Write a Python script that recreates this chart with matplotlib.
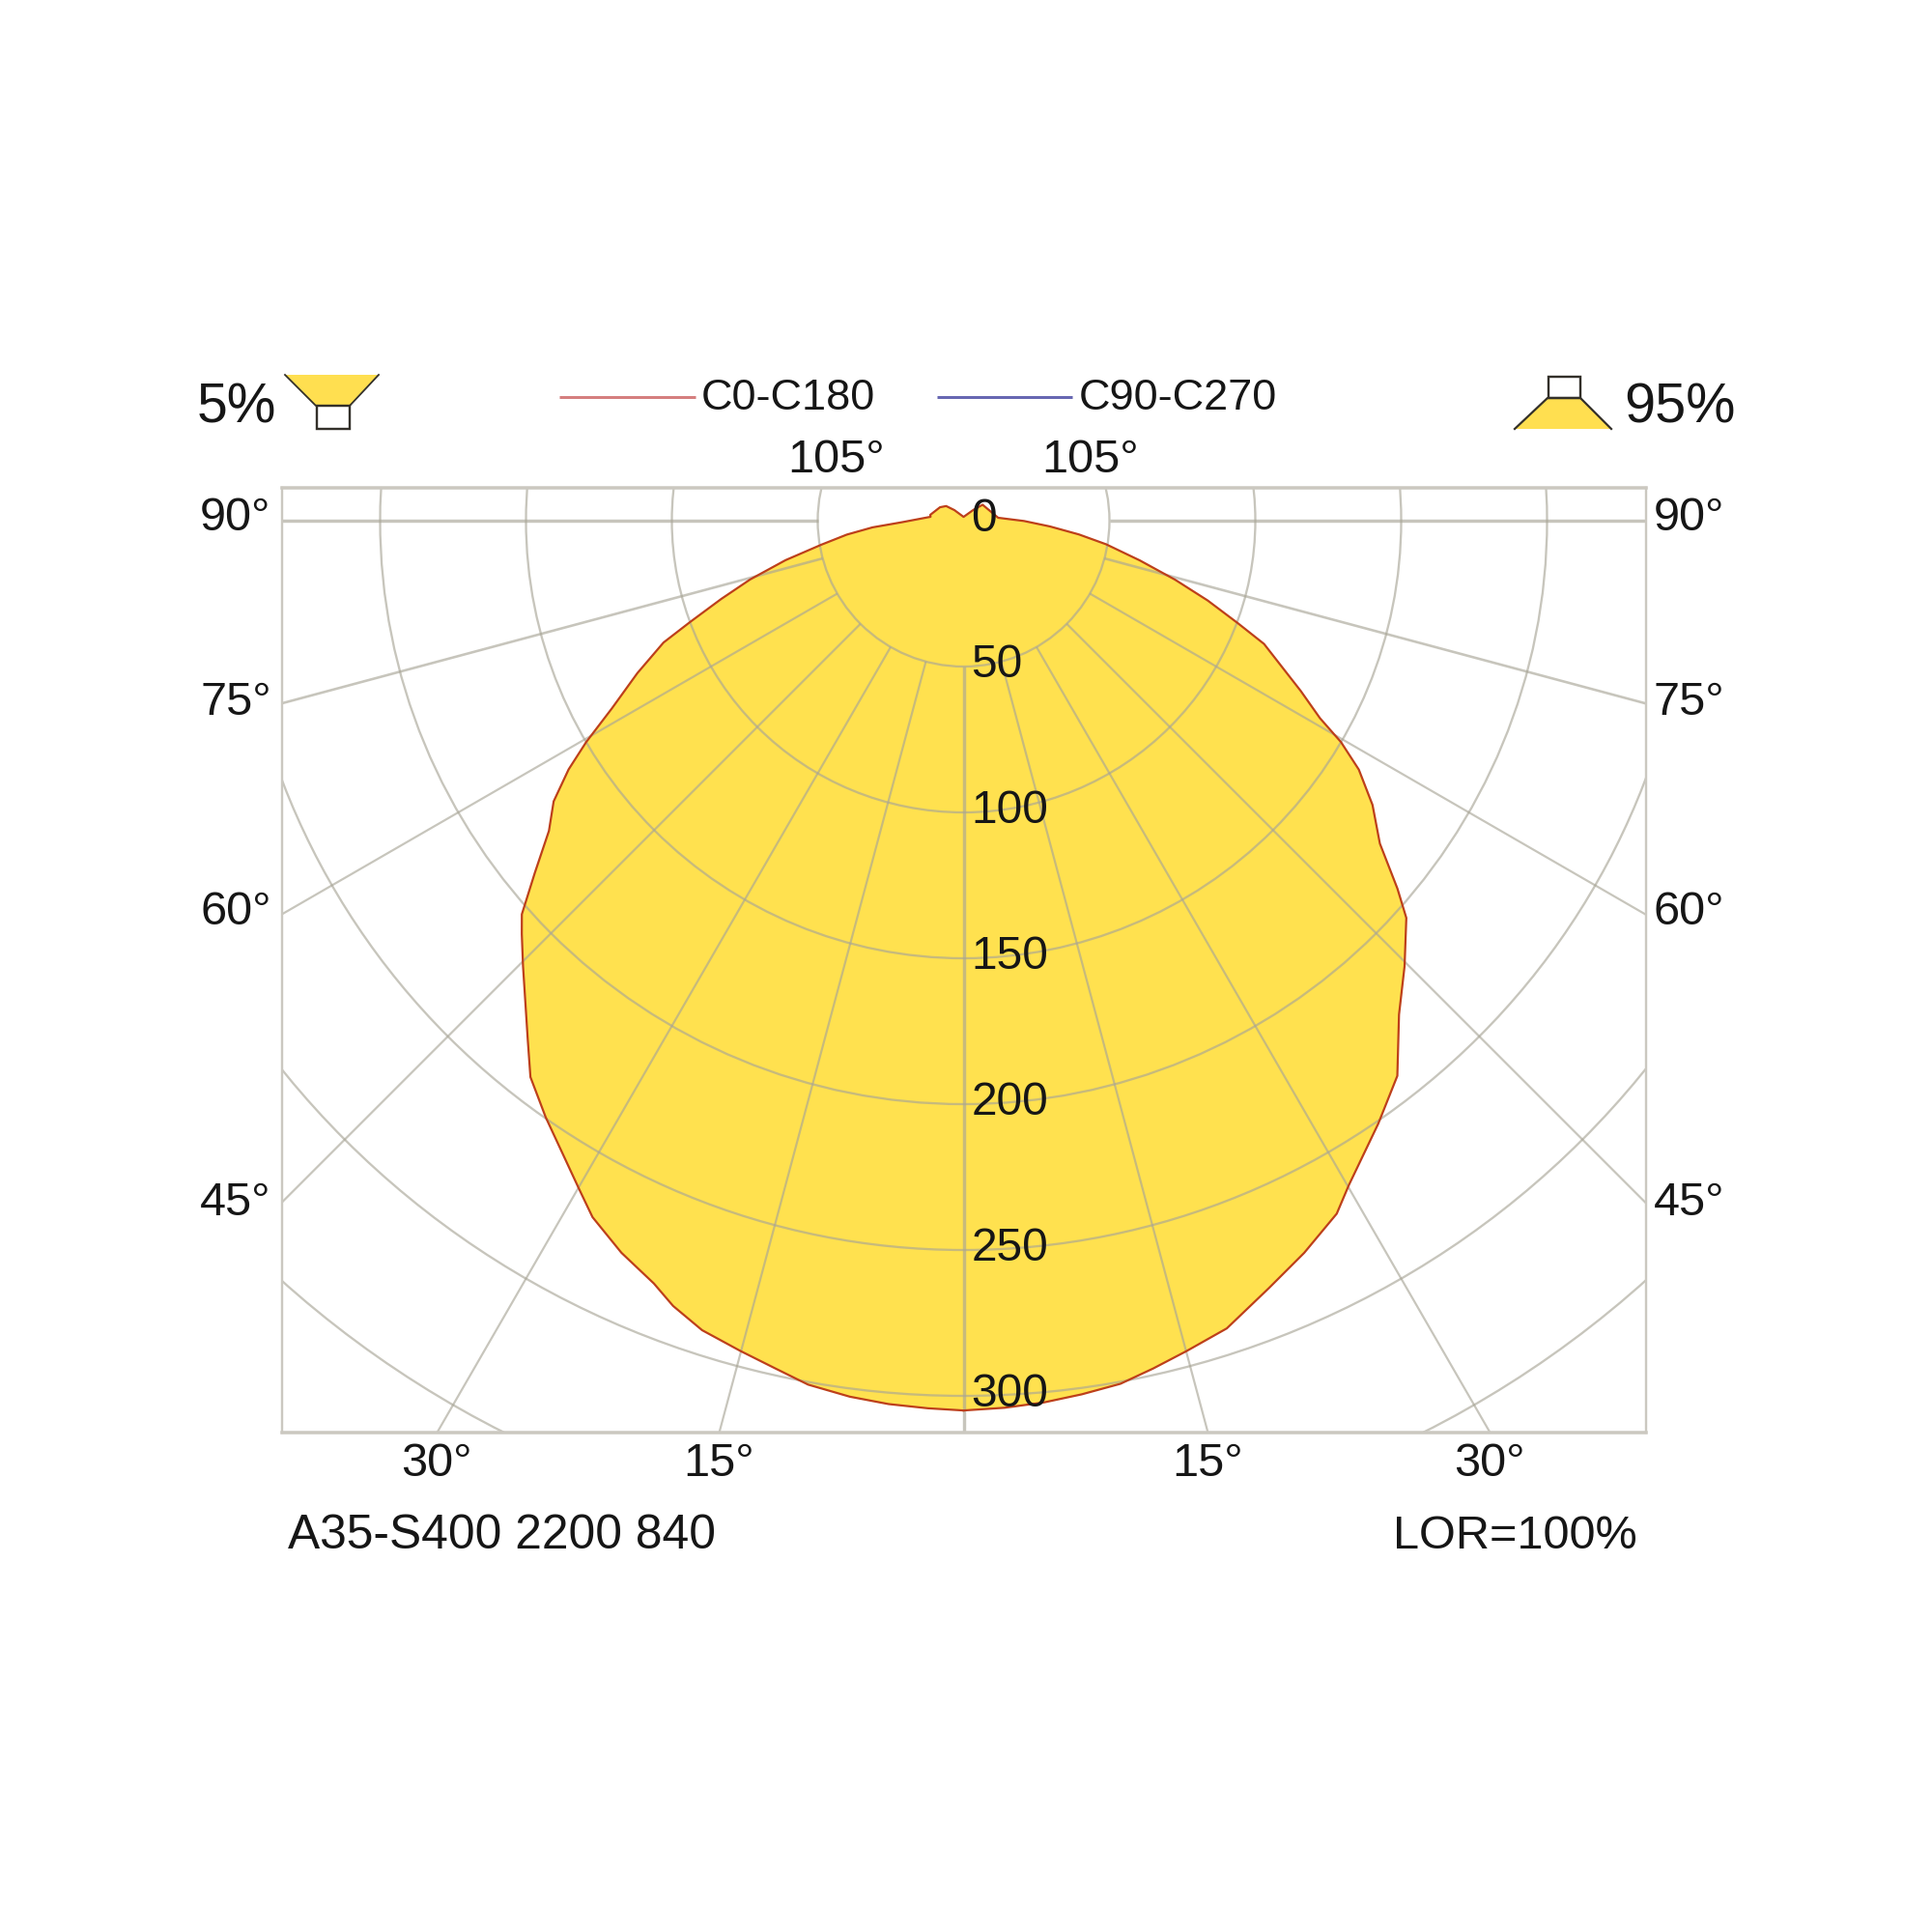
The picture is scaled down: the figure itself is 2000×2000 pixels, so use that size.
import numpy as np
import matplotlib
matplotlib.use("Agg")
import matplotlib.pyplot as plt
from matplotlib.patches import Circle, Polygon, Rectangle

plt.rcParams['font.family'] = ['Liberation Sans', 'DejaVu Sans']

# ---- data: angle from nadir (deg), intensity (cd/klm)
angle_right = [0, 2.65, 5.2, 7.7, 10.3, 12.6, 15.05, 18.05, 21.7, 24.95, 28.3, 30.1, 34.5, 38,
               41.4, 44.7, 48.1, 49.7, 52.2, 55.2, 57.8, 59.6, 61, 63.2, 67.7, 69.5, 71.9,
               74.4, 77.3, 80.6, 83.2, 86.2, 89.7, 94.8, 130, 138, 180]
value_right = [305, 304.4, 303.5, 302.2, 300.7, 297.8, 294.7, 291.2, 283.1, 276.8, 269.8,
               263.3, 250.9, 241.5, 225.7, 214.9, 203.9, 195, 180.6, 170.7, 160.1, 150, 139.7,
               129.5, 111.3, 100.4, 88, 75.3, 61.9, 49.5, 39.8, 29.6, 20.7, 11.9, 8.5, 4.9, 1.3]
angle_left = [180, 139, 130, 119.7, 99.9, 96.7, 88.5, 85.8, 83.2, 80.4, 77.5, 74.6, 72.1, 69.7,
              67.9, 64.96, 61.9, 59.6, 57.8, 55.6, 53.2, 50.6, 48.3, 46.9, 44.7, 40, 37.9, 35,
              29.85, 28.05, 25.05, 22.1, 20.3, 17.9, 15.05, 12.5, 10.2, 7.4, 4.85, 2.3, 0]
value_left = [1.3, 4.8, 7.8, 9.3, 11.6, 11.4, 21.3, 31.3, 40.3, 49.5, 62.5, 75.9, 87.3, 99.8,
              111, 123.4, 136.7, 150, 160, 170.3, 177.5, 190.2, 202.8, 207.4, 214.7, 232.4,
              241.7, 249.7, 264.5, 270.5, 277, 282.2, 287, 291.6, 294.7, 297.7, 300.9, 302.8,
              303.9, 304.5, 305]

radial_ticks = [50, 100, 150, 200, 250, 300, 350]
radial_labels = [0, 50, 100, 150, 200, 250, 300]
ray_angles = [0, 15, 30, 45, 60, 75, 90]
series_names = ['C0-C180', 'C90-C270']
share_labels = ['5%', '95%']
caption_left = 'A35-S400 2200 840'
caption_right = 'LOR=100%'

# ---- style
GRID = '#a8a596'
GRID_A = 0.64
FRAME = '#cbc8c0'
FILL = '#ffe14f'
CURVE = '#bd3f1a'
TXT = '#161616'
PX = 0.72  # one pixel in points at dpi 100

W = 2000
CX, CY = 997.5, 539.0
SCALE = 3.02
L, R, T, B = 291.5, 1704.0, 505.0, 1482.5

fig = plt.figure(figsize=(20, 20), dpi=100, facecolor='white')
ax = fig.add_axes([L / W, 1 - B / W, (R - L) / W, (B - T) / W])
ax.set_xlim((L - CX) / SCALE, (R - CX) / SCALE)
ax.set_ylim((CY - B) / SCALE, (CY - T) / SCALE)
ax.set_xticks([])
ax.set_yticks([])
for name, sp in ax.spines.items():
    sp.set_color(FRAME)
    sp.set_linewidth((3.5 if name in ('top', 'bottom') else 2.4) * PX)

# polar curve
th = np.radians(np.r_[angle_right, -np.array(angle_left[1:], dtype=float)])
val = np.r_[value_right, value_left[1:]]
x = val * np.sin(th)
y = -val * np.cos(th)
ax.fill(x, y, color=FILL, lw=0, zorder=1)

# grid
for r in radial_ticks:
    ax.add_patch(Circle((0, 0), r, fill=False, ec=GRID, alpha=GRID_A, lw=2.3 * PX, zorder=2))
far = 500
for a in ray_angles:
    t = np.radians(a)
    lw = (3.4 if a in (0, 90) else 2.6 if a == 75 else 2.2) * PX
    for s in ((1, -1) if a else (1,)):
        ax.plot([s * 50 * np.sin(t), s * far * np.sin(t)],
                [-50 * np.cos(t), -far * np.cos(t)],
                color=GRID, alpha=GRID_A, lw=lw, solid_capstyle='butt', zorder=2)

ax.plot(x, y, color=CURVE, lw=2.2 * PX, solid_joinstyle='round', zorder=3)

# overlay in pixel coordinates for labels and icons
ov = fig.add_axes([0, 0, 1, 1], facecolor='none')
ov.set_xlim(0, W)
ov.set_ylim(W, 0)
ov.axis('off')


def label(px, py, s, size=35, ha='left'):
    ov.text(px, py, s, fontsize=size, ha=ha, va='baseline', color=TXT)


for v in radial_labels:
    label(1005.5, 550 + v * 3.02, str(v), size=34.5)

for s, yy in (('90°', 549), ('75°', 740), ('60°', 957), ('45°', 1258)):
    label(207, yy, s)
    label(1712, yy, s)
label(815, 489, '105°')
label(1078, 489, '105°')
label(415, 1528, '30°')
label(707, 1528, '15°')
label(1213, 1528, '15°')
label(1505, 1528, '30°')
label(298, 1603, caption_left, size=35.8)
label(1695, 1603, caption_right, size=35)
ov.texts[-1].set_ha('right')
label(204, 438, share_labels[0], size=41)
label(1681, 438, share_labels[1], size=41.5)
label(726, 424, series_names[0], size=32.5)
label(1117, 424, series_names[1], size=32.5)

ov.plot([579, 720], [411, 411], color='#d57f7f', lw=3 * PX, solid_capstyle='butt')
ov.plot([970, 1110], [411, 411], color='#6767b2', lw=3 * PX, solid_capstyle='butt')

# luminaire icons
EDGE = '#33302a'
ov.add_patch(Polygon([(295, 388), (392, 388), (362, 420), (327, 420)], closed=True, fc='#ffdf50', ec='none'))
ov.plot([295, 327, 362, 392], [388, 420, 420, 388], color=EDGE, lw=1.8 * PX)
ov.add_patch(Rectangle((328, 420), 34, 24, fc='white', ec=EDGE, lw=2.4 * PX))
ov.add_patch(Polygon([(1602, 412), (1636, 412), (1668, 444), (1568, 444)], closed=True, fc='#ffdf50', ec='none'))
ov.plot([1568, 1602, 1636, 1668], [444, 412, 412, 444], color=EDGE, lw=2.2 * PX)
ov.add_patch(Rectangle((1603, 390), 33, 22, fc='white', ec=EDGE, lw=2.4 * PX))

fig.savefig('out.png', dpi=100, facecolor='white')
